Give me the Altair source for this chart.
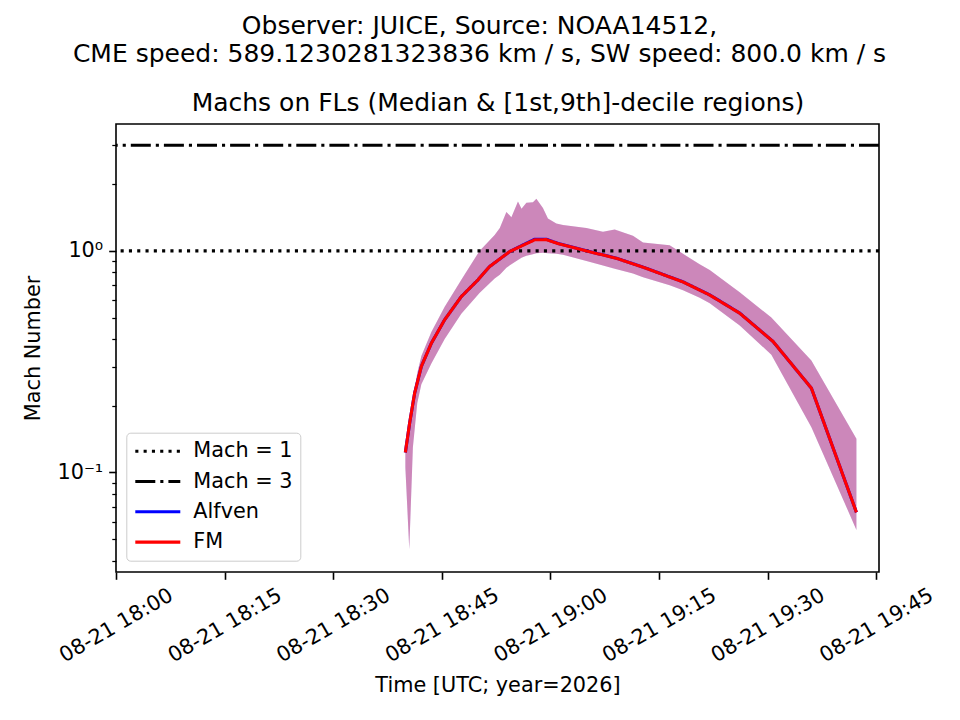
import altair as alt
import pandas as pd

# ---------------- text ----------------
SUPTITLE = ["Observer: JUICE, Source: NOAA14512,",
            "CME speed: 589.1230281323836 km / s, SW speed: 800.0 km / s"]
AX_TITLE = "Machs on FLs (Median & [1st,9th]-decile regions)"
X_TITLE = "Time [UTC; year=2026]"
Y_TITLE = "Mach Number"
START = "2026-08-21 18:00:00"

# ---------------- data (minutes after 18:00 UTC) ----------------
median_minutes = [39.96, 40.55, 41.24, 42.17, 43.55, 45.39, 47.69, 49.99, 51.60, 54.37,
                  56.20, 57.82, 59.43, 60.34, 61.27, 64.49, 69.10, 73.00, 78.30, 81.99,
                  86.13, 90.73, 96.03, 102.25]
alfven_median = [0.123, 0.167, 0.228, 0.301, 0.383, 0.489, 0.622, 0.740, 0.850, 0.993,
                 1.064, 1.129, 1.129, 1.101, 1.075, 1.010, 0.927, 0.840, 0.725, 0.633,
                 0.524, 0.390, 0.240, 0.066]
fm_median = [0.123, 0.167, 0.228, 0.301, 0.383, 0.489, 0.622, 0.740, 0.850, 0.993,
             1.060, 1.122, 1.124, 1.098, 1.073, 1.008, 0.926, 0.839, 0.724, 0.632,
             0.523, 0.390, 0.240, 0.066]

band_minutes = [39.96, 40.50, 41.00, 41.60, 42.17, 43.55, 45.39, 47.69, 50.20, 52.29,
                53.00, 53.91, 54.60, 55.51, 56.00, 56.67, 57.58, 58.05, 58.96, 59.65,
                60.81, 61.73, 64.96, 67.25, 68.87, 71.39, 72.78, 76.46, 78.30, 80.60,
                81.99, 86.13, 90.50, 96.03, 102.25]
band_upper = [0.128, 0.17, 0.215, 0.28, 0.335, 0.43, 0.56, 0.74, 1.00, 1.18,
              1.27, 1.50, 1.42, 1.67, 1.55, 1.65, 1.66, 1.72, 1.56, 1.40,
              1.33, 1.31, 1.27, 1.22, 1.25, 1.17, 1.09, 1.06, 0.97, 0.87,
              0.82, 0.65, 0.50, 0.32, 0.142]
band_lower = [0.105, 0.045, 0.13, 0.205, 0.25, 0.31, 0.40, 0.52, 0.645, 0.75,
              0.78, 0.84, 0.87, 0.91, 0.93, 0.95, 0.965, 0.975, 0.98, 0.975,
              0.97, 0.96, 0.90, 0.86, 0.83, 0.79, 0.76, 0.70, 0.665, 0.615,
              0.58, 0.46, 0.34, 0.16, 0.055]

mach_levels = [1, 3]
mach_names = ["Mach = 1", "Mach = 3"]

series_names = ["Mach = 1", "Mach = 3", "Alfven", "FM"]
series_colors = ["black", "black", "blue", "red"]
series_dashes = [[3.1, 5.2], [20, 5, 3.1, 5], [1, 0], [1, 0]]

y_ticks = [0.04, 0.05, 0.06, 0.07, 0.08, 0.09, 0.1,
           0.2, 0.3, 0.4, 0.5, 0.6, 0.7, 0.8, 0.9, 1, 2, 3]
x_tick_minutes = [0, 15, 30, 45, 60, 75, 90, 105]
y_domain = [0.0355, 3.74]

# ---------------- tables ----------------
t0 = pd.Timestamp(START)


def dt(m):
    t = t0 + pd.Timedelta(minutes=m)
    return alt.DateTime(year=t.year, month=t.month, date=t.day, hours=t.hour,
                        minutes=t.minute, seconds=t.second)


def stamp(m):
    return (t0 + pd.Timedelta(minutes=m)).strftime("%Y-%m-%dT%H:%M:%S.%f")[:-3]


band_df = pd.DataFrame({
    "time": [stamp(m) for m in band_minutes],
    "lower": band_lower,
    "upper": band_upper,
})
line_df = pd.concat([
    pd.DataFrame({"time": [stamp(m) for m in median_minutes], "value": alfven_median,
                  "series": "Alfven"}),
    pd.DataFrame({"time": [stamp(m) for m in median_minutes], "value": fm_median,
                  "series": "FM"}),
], ignore_index=True)
mach_df = pd.DataFrame({"level": mach_levels, "series": mach_names})

# ---------------- scales / axes ----------------
FONT = "DejaVu Sans"
FS = 20.8

xscale = alt.Scale(domain=[dt(0), dt(105 + 22 / 60)], nice=False)
yscale = alt.Scale(type="log", domain=y_domain, nice=False)
color_scale = alt.Scale(domain=series_names, range=series_colors)
dash_scale = alt.Scale(domain=series_names, range=series_dashes)

main_x_axis = alt.Axis(orient="bottom", format="%m-%d %H:%M",
                       values=[dt(m) for m in x_tick_minutes],
                       labelAngle=-30, labelAlign="center", labelBaseline="middle",
                       labelPadding=46, labelFontSize=FS, labelColor="black", labelFont=FONT,
                       labelFlush=False, labelOverlap=False, labelBound=False,
                       tickColor="black", tickSize=7.3, tickWidth=1.6,
                       domain=False, grid=False, title=X_TITLE, titleFontSize=FS,
                       titleFont=FONT, titleFontWeight="normal", titleColor="black",
                       titleY=113, titleBaseline="middle", titleAlign="center")
top_axis = alt.Axis(orient="top", labels=False, ticks=False, domain=False, grid=False,
                    title=AX_TITLE, titleFontSize=25, titleFont=FONT,
                    titleFontWeight="normal", titleColor="black", titleY=-14,
                    titleBaseline="alphabetic", titleAlign="center")
main_y_axis = alt.Axis(orient="left", values=y_ticks,
                       labelExpr="datum.value == 1 ? '10\u2070' : (datum.value == 0.1 ? '10\u207b\u00b9' : '')",
                       labelFontSize=FS, labelFont=FONT, labelColor="black", labelPadding=6,
                       labelFlush=False, labelOverlap=False,
                       tickColor="black",
                       tickSize={"condition": {"test": "datum.value == 1 || datum.value == 0.1",
                                               "value": 7.3}, "value": 4.2},
                       tickWidth={"condition": {"test": "datum.value == 1 || datum.value == 0.1",
                                                "value": 1.6}, "value": 1.25},
                       domain=False, grid=False, title=Y_TITLE, titleFontSize=FS,
                       titleFont=FONT, titleFontWeight="normal", titleColor="black",
                       titleX=-83, titleY=224, titleAngle=270, titleAlign="center",
                       titleBaseline="middle")

legend = alt.Legend(title=None, orient="none", legendX=10.3, legendY=308.7,
                    fillColor="white", strokeColor="#cccccc", cornerRadius=4, padding=7,
                    labelFontSize=FS, labelColor="black", labelFont=FONT,
                    symbolType="stroke", symbolSize=2025, symbolStrokeWidth=3.1,
                    clipHeight=23, rowPadding=7.3, labelOffset=11)

# ---------------- layers ----------------
alfven_band = alt.Chart(band_df).mark_area(color="blue", opacity=0.27).encode(
    x=alt.X("time:T", scale=xscale, axis=main_x_axis),
    y=alt.Y("lower:Q", scale=yscale, axis=main_y_axis),
    y2="upper:Q",
)
fm_band = alt.Chart(band_df).mark_area(color="red", opacity=0.27).encode(
    x=alt.X("time:T", scale=xscale, axis=top_axis),
    y=alt.Y("lower:Q", scale=yscale),
    y2="upper:Q",
)
rules = alt.Chart(mach_df).mark_rule(strokeWidth=3.1).encode(
    y=alt.Y("level:Q", scale=yscale),
    color=alt.Color("series:N", scale=color_scale, legend=legend),
    strokeDash=alt.StrokeDash("series:N", scale=dash_scale, legend=legend),
)
lines = alt.Chart(line_df).mark_line(strokeWidth=3.1).encode(
    x=alt.X("time:T", scale=xscale, axis=None),
    y=alt.Y("value:Q", scale=yscale),
    color=alt.Color("series:N", scale=color_scale, legend=legend),
    strokeDash=alt.StrokeDash("series:N", scale=dash_scale, legend=legend),
)

chart = alt.layer(alfven_band, fm_band, rules, lines).resolve_axis(
    x="independent"
).properties(
    width=763,
    height=448,
    title=alt.TitleParams(text=SUPTITLE, fontSize=25, fontWeight="normal",
                          font=FONT, color="black", anchor="middle", dx=-18, lineHeight=28.5,
                          offset=23),
    autosize=alt.AutoSizeParams(type="none"),
    padding={"left": 108, "top": 116, "right": 72, "bottom": 130},
).configure(font=FONT).configure_view(stroke="black", strokeWidth=1.6)

chart.save("out.html", embed_options={"renderer": "svg", "actions": False})
